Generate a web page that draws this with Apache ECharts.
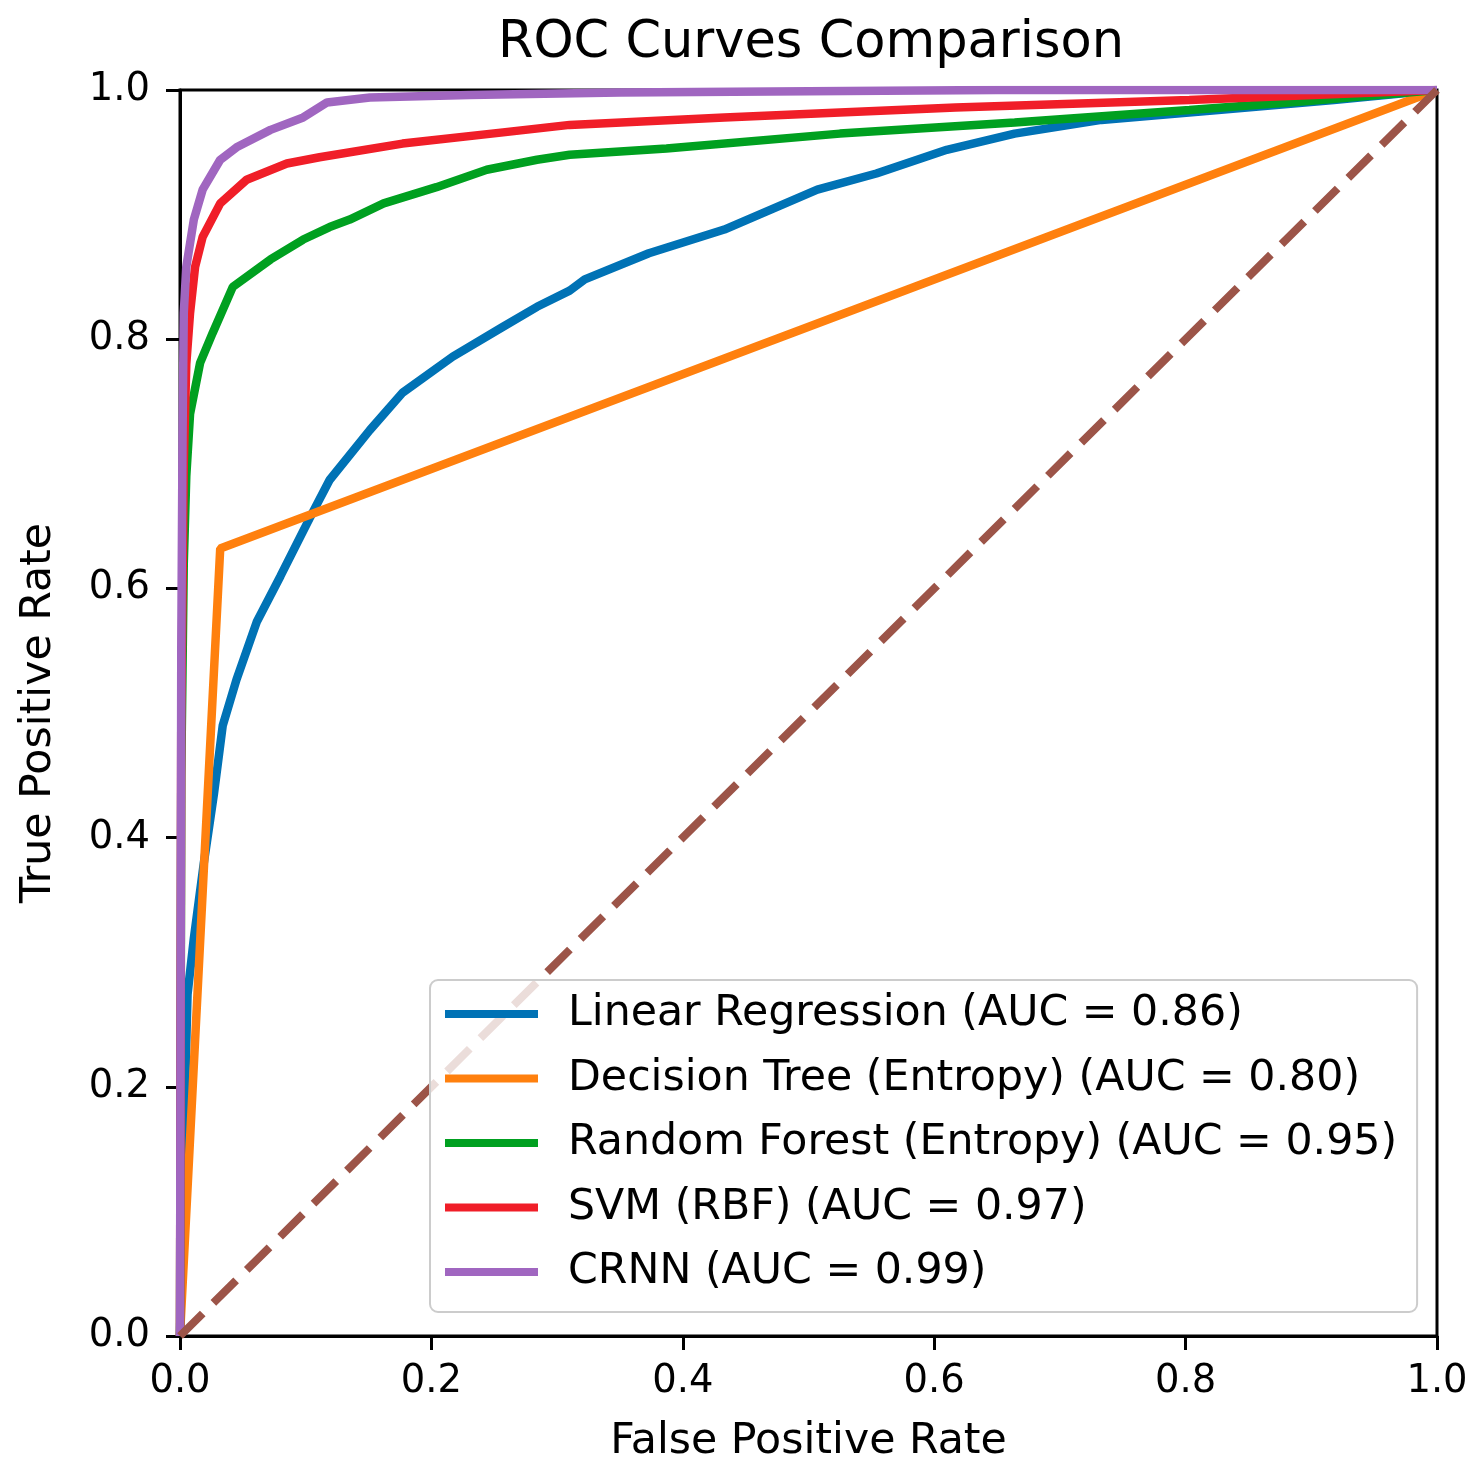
<!DOCTYPE html>
<html>
<head>
<meta charset="utf-8">
<script src="https://cdn.jsdelivr.net/npm/echarts@6/dist/echarts.min.js"></script>
<style>
  html, body { margin: 0; padding: 0; background: #fff; }
  #roc { width: 1473px; height: 1484px; }
</style>
</head>
<body>
<div id="roc"></div>
<script>
// values
var lrFpr = [0, 0.001, 0.003, 0.006, 0.011, 0.019, 0.027, 0.034, 0.045, 0.061, 0.080, 0.103, 0.119, 0.151, 0.177, 0.217, 0.257, 0.284, 0.31, 0.322, 0.373, 0.433, 0.470, 0.507, 0.554, 0.610, 0.664, 0.733, 0.826, 0.918, 1];
var lrTpr = [0, 0.06, 0.158, 0.274, 0.319, 0.380, 0.435, 0.490, 0.527, 0.573, 0.610, 0.656, 0.687, 0.727, 0.757, 0.786, 0.810, 0.826, 0.839, 0.848, 0.869, 0.888, 0.904, 0.920, 0.933, 0.952, 0.965, 0.976, 0.984, 0.992, 1];

var dtFpr = [0, 0.032, 1];
var dtTpr = [0, 0.632, 1];

var rfFpr = [0, 0.001, 0.003, 0.005, 0.008, 0.016, 0.026, 0.042, 0.072, 0.098, 0.119, 0.135, 0.162, 0.204, 0.244, 0.284, 0.31, 0.387, 0.525, 0.664, 0.803, 0.895, 1];
var rfTpr = [0, 0.45, 0.62, 0.69, 0.74, 0.781, 0.805, 0.842, 0.864, 0.880, 0.890, 0.896, 0.909, 0.922, 0.936, 0.944, 0.948, 0.953, 0.965, 0.974, 0.984, 0.991, 1];

var svmFpr = [0, 0.001, 0.003, 0.005, 0.008, 0.012, 0.018, 0.032, 0.053, 0.085, 0.111, 0.177, 0.257, 0.31, 0.433, 0.617, 0.803, 1];
var svmTpr = [0, 0.5, 0.7, 0.78, 0.821, 0.858, 0.882, 0.909, 0.928, 0.941, 0.946, 0.957, 0.966, 0.972, 0.978, 0.986, 0.992, 1];

var crnnFpr = [0, 0.001, 0.002, 0.003, 0.005, 0.011, 0.018, 0.032, 0.045, 0.072, 0.098, 0.117, 0.151, 0.23, 0.35, 0.5, 0.65, 1];
var crnnTpr = [0, 0.55, 0.72, 0.821, 0.858, 0.896, 0.920, 0.944, 0.954, 0.968, 0.978, 0.990, 0.994, 0.996, 0.998, 0.999, 1, 1];

var chanceFpr = [0, 1];
var chanceTpr = [0, 1];

var modelNames = [
  'Linear Regression (AUC = 0.86)',
  'Decision Tree (Entropy) (AUC = 0.80)',
  'Random Forest (Entropy) (AUC = 0.95)',
  'SVM (RBF) (AUC = 0.97)',
  'CRNN (AUC = 0.99)'
];
var modelColors = ['#0072b5', '#ff800e', '#00a020', '#f01e28', '#a066c0'];

function pairs(xs, ys) {
  return xs.map(function (x, i) { return [x, ys[i]]; });
}

var chart = echarts.init(document.getElementById('roc'));
var font = 'DejaVu Sans';

var curves = [
  pairs(lrFpr, lrTpr),
  pairs(dtFpr, dtTpr),
  pairs(rfFpr, rfTpr),
  pairs(svmFpr, svmTpr),
  pairs(crnnFpr, crnnTpr)
];

var series = curves.map(function (d, i) {
  return {
    name: modelNames[i],
    type: 'line',
    data: d,
    symbol: 'none',
    color: modelColors[i],
    lineStyle: { width: 8.5, color: modelColors[i] },
    z: 2 + i
  };
});
series.push({
  name: 'chance',
  type: 'line',
  data: pairs(chanceFpr, chanceTpr),
  symbol: 'none',
  lineStyle: { width: 8, color: '#9c5448', type: [32, 15] },
  z: 8
});

function axisBase(name, gap) {
  return {
    type: 'value',
    min: 0,
    max: 1,
    interval: 0.2,
    name: name,
    nameLocation: 'middle',
    nameGap: gap,
    nameTextStyle: { fontFamily: font, fontSize: 42.7, color: '#000' },
    axisLine: { show: true, lineStyle: { color: '#000', width: 3 } },
    axisTick: { show: true, inside: false, length: 14, lineStyle: { color: '#000', width: 3 } },
    axisLabel: {
      fontFamily: font, fontSize: 38.5, color: '#000',
      formatter: function (v) { return v.toFixed(1); }
    },
    splitLine: { show: false }
  };
}

var xAxis = axisBase('False Positive Rate', 84);
xAxis.axisLabel.margin = 26;
var yAxis = axisBase('True Positive Rate', 120);
yAxis.axisLabel.margin = 30;

option = {
  backgroundColor: '#fff',
  animation: false,
  title: {
    text: 'ROC Curves Comparison',
    left: 806,
    top: 13,
    textAlign: 'center',
    textStyle: { fontFamily: font, fontSize: 51, fontWeight: 'normal', color: '#000' }
  },
  grid: {
    left: 180,
    right: 36,
    top: 90,
    bottom: 148,
    show: true,
    borderColor: '#000',
    borderWidth: 3,
    backgroundColor: 'transparent'
  },
  legend: {
    data: modelNames,
    orient: 'vertical',
    left: 430,
    top: 980,
    padding: [12, 20, 18, 15],
    itemGap: 20.5,
    itemWidth: 93,
    itemHeight: 8,
    icon: 'rect',
    backgroundColor: 'rgba(255,255,255,0.8)',
    borderColor: '#cccccc',
    borderWidth: 2,
    borderRadius: 8,
    textStyle: {
      fontFamily: font, fontSize: 42.7, color: '#000',
      lineHeight: 44,
      padding: [0, 0, 0, 25]
    },
    z: 20
  },
  xAxis: xAxis,
  yAxis: yAxis,
  series: series
};

chart.setOption(option);
</script>
</body>
</html>
